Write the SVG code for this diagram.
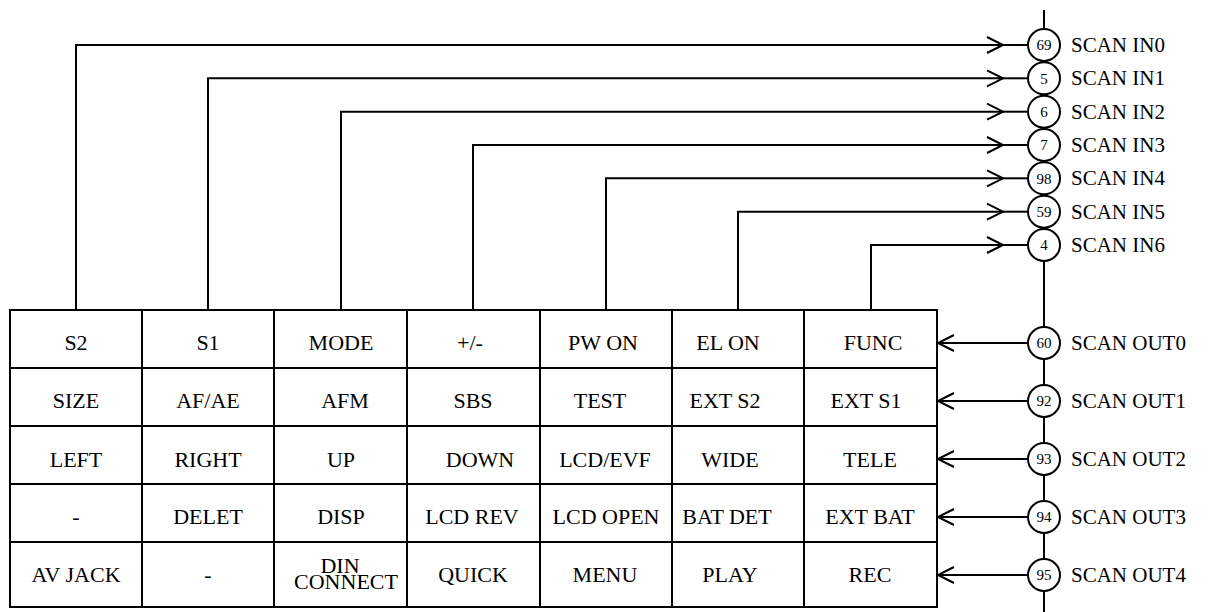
<svg xmlns="http://www.w3.org/2000/svg" width="1218" height="612" viewBox="0 0 1218 612">
<style>
.ln{fill:none;stroke:#000;stroke-width:2}
.cell{fill:#fff;stroke:#000;stroke-width:2}
.t{font-family:"Liberation Serif",serif;font-size:22px;fill:#000;text-anchor:middle}
.lab{font-family:"Liberation Serif",serif;font-size:21px;fill:#000}
.pin{fill:#fff;stroke:#000;stroke-width:2}
.pn{font-family:"Liberation Serif",serif;font-size:15px;fill:#000;text-anchor:middle}
</style>
<defs>
<marker id="ah" markerUnits="userSpaceOnUse" markerWidth="20" markerHeight="20" viewBox="-18 -10 20 20" refX="0" refY="0" orient="auto" overflow="visible">
<path d="M-16,-8 L0,0 L-16,8" fill="none" stroke="#000" stroke-width="2"/>
</marker>
</defs>
<g id="bus"><line class="ln" x1="1044" y1="10" x2="1044" y2="612"/></g>
<g id="connectors">
<path class="ln" d="M76,310 V45 H1003" marker-end="url(#ah)"/><line class="ln" x1="1003" y1="45" x2="1028" y2="45"/>
<path class="ln" d="M208,310 V78.3 H1003" marker-end="url(#ah)"/><line class="ln" x1="1003" y1="78.3" x2="1028" y2="78.3"/>
<path class="ln" d="M341,310 V111.7 H1003" marker-end="url(#ah)"/><line class="ln" x1="1003" y1="111.7" x2="1028" y2="111.7"/>
<path class="ln" d="M473,310 V145 H1003" marker-end="url(#ah)"/><line class="ln" x1="1003" y1="145" x2="1028" y2="145"/>
<path class="ln" d="M606,310 V178.3 H1003" marker-end="url(#ah)"/><line class="ln" x1="1003" y1="178.3" x2="1028" y2="178.3"/>
<path class="ln" d="M738,310 V211.7 H1003" marker-end="url(#ah)"/><line class="ln" x1="1003" y1="211.7" x2="1028" y2="211.7"/>
<path class="ln" d="M871,310 V245 H1003" marker-end="url(#ah)"/><line class="ln" x1="1003" y1="245" x2="1028" y2="245"/>
<path class="ln" d="M1028,343 H938" marker-end="url(#ah)"/>
<path class="ln" d="M1028,401 H938" marker-end="url(#ah)"/>
<path class="ln" d="M1028,459 H938" marker-end="url(#ah)"/>
<path class="ln" d="M1028,517 H938" marker-end="url(#ah)"/>
<path class="ln" d="M1028,575 H938" marker-end="url(#ah)"/>
</g>
<g id="matrix">
<rect class="cell" x="10" y="310" width="927" height="297"/>
<path class="ln" d="M10,368 H937 M10,426 H937 M10,484 H937 M10,542 H937 M142,310 V607 M274,310 V607 M407,310 V607 M540,310 V607 M672,310 V607 M804,310 V607"/>
</g>
<g id="keys">
<text class="t" x="76" y="350">S2</text><text class="t" x="208" y="350">S1</text><text class="t" x="341" y="350">MODE</text><text class="t" x="470" y="350">+/-</text><text class="t" x="603" y="350">PW ON</text><text class="t" x="728" y="350">EL ON</text><text class="t" x="873" y="350">FUNC</text>
<text class="t" x="76" y="408">SIZE</text><text class="t" x="208" y="408">AF/AE</text><text class="t" x="345" y="408">AFM</text><text class="t" x="473" y="408">SBS</text><text class="t" x="600" y="408">TEST</text><text class="t" x="725" y="408">EXT S2</text><text class="t" x="866" y="408">EXT S1</text>
<text class="t" x="76" y="467">LEFT</text><text class="t" x="208" y="467">RIGHT</text><text class="t" x="341" y="467">UP</text><text class="t" x="480" y="467">DOWN</text><text class="t" x="605" y="467">LCD/EVF</text><text class="t" x="730" y="467">WIDE</text><text class="t" x="870" y="467">TELE</text>
<text class="t" x="76" y="524">-</text><text class="t" x="208" y="524">DELET</text><text class="t" x="341" y="524">DISP</text><text class="t" x="472" y="524">LCD REV</text><text class="t" x="606" y="524">LCD OPEN</text><text class="t" x="727" y="524">BAT DET</text><text class="t" x="870" y="524">EXT BAT</text>
<text class="t" x="76" y="582">AV JACK</text><text class="t" x="208" y="582">-</text><text class="t" x="340" y="573">DIN</text><text class="t" x="346" y="589">CONNECT</text><text class="t" x="473" y="582">QUICK</text><text class="t" x="605" y="582">MENU</text><text class="t" x="730" y="582">PLAY</text><text class="t" x="870" y="582">REC</text>
</g>
<g id="pin69"><circle class="pin" cx="1044" cy="45" r="16"/><text class="pn" x="1044" y="50">69</text><text class="lab" x="1071" y="52">SCAN IN0</text></g>
<g id="pin5"><circle class="pin" cx="1044" cy="78.3" r="16"/><text class="pn" x="1044" y="83.5">5</text><text class="lab" x="1071" y="85">SCAN IN1</text></g>
<g id="pin6"><circle class="pin" cx="1044" cy="111.7" r="16"/><text class="pn" x="1044" y="117">6</text><text class="lab" x="1071" y="118.5">SCAN IN2</text></g>
<g id="pin7"><circle class="pin" cx="1044" cy="145" r="16"/><text class="pn" x="1044" y="150">7</text><text class="lab" x="1071" y="152">SCAN IN3</text></g>
<g id="pin98"><circle class="pin" cx="1044" cy="178.3" r="16"/><text class="pn" x="1044" y="183.5">98</text><text class="lab" x="1071" y="185">SCAN IN4</text></g>
<g id="pin59"><circle class="pin" cx="1044" cy="211.7" r="16"/><text class="pn" x="1044" y="217">59</text><text class="lab" x="1071" y="218.5">SCAN IN5</text></g>
<g id="pin4"><circle class="pin" cx="1044" cy="245" r="16"/><text class="pn" x="1044" y="250">4</text><text class="lab" x="1071" y="252">SCAN IN6</text></g>
<g id="pin60"><circle class="pin" cx="1044" cy="343" r="16"/><text class="pn" x="1044" y="348">60</text><text class="lab" x="1071" y="350">SCAN OUT0</text></g>
<g id="pin92"><circle class="pin" cx="1044" cy="401" r="16"/><text class="pn" x="1044" y="406">92</text><text class="lab" x="1071" y="408">SCAN OUT1</text></g>
<g id="pin93"><circle class="pin" cx="1044" cy="459" r="16"/><text class="pn" x="1044" y="464">93</text><text class="lab" x="1071" y="466">SCAN OUT2</text></g>
<g id="pin94"><circle class="pin" cx="1044" cy="517" r="16"/><text class="pn" x="1044" y="522">94</text><text class="lab" x="1071" y="524">SCAN OUT3</text></g>
<g id="pin95"><circle class="pin" cx="1044" cy="575" r="16"/><text class="pn" x="1044" y="580">95</text><text class="lab" x="1071" y="582">SCAN OUT4</text></g>
</svg>
